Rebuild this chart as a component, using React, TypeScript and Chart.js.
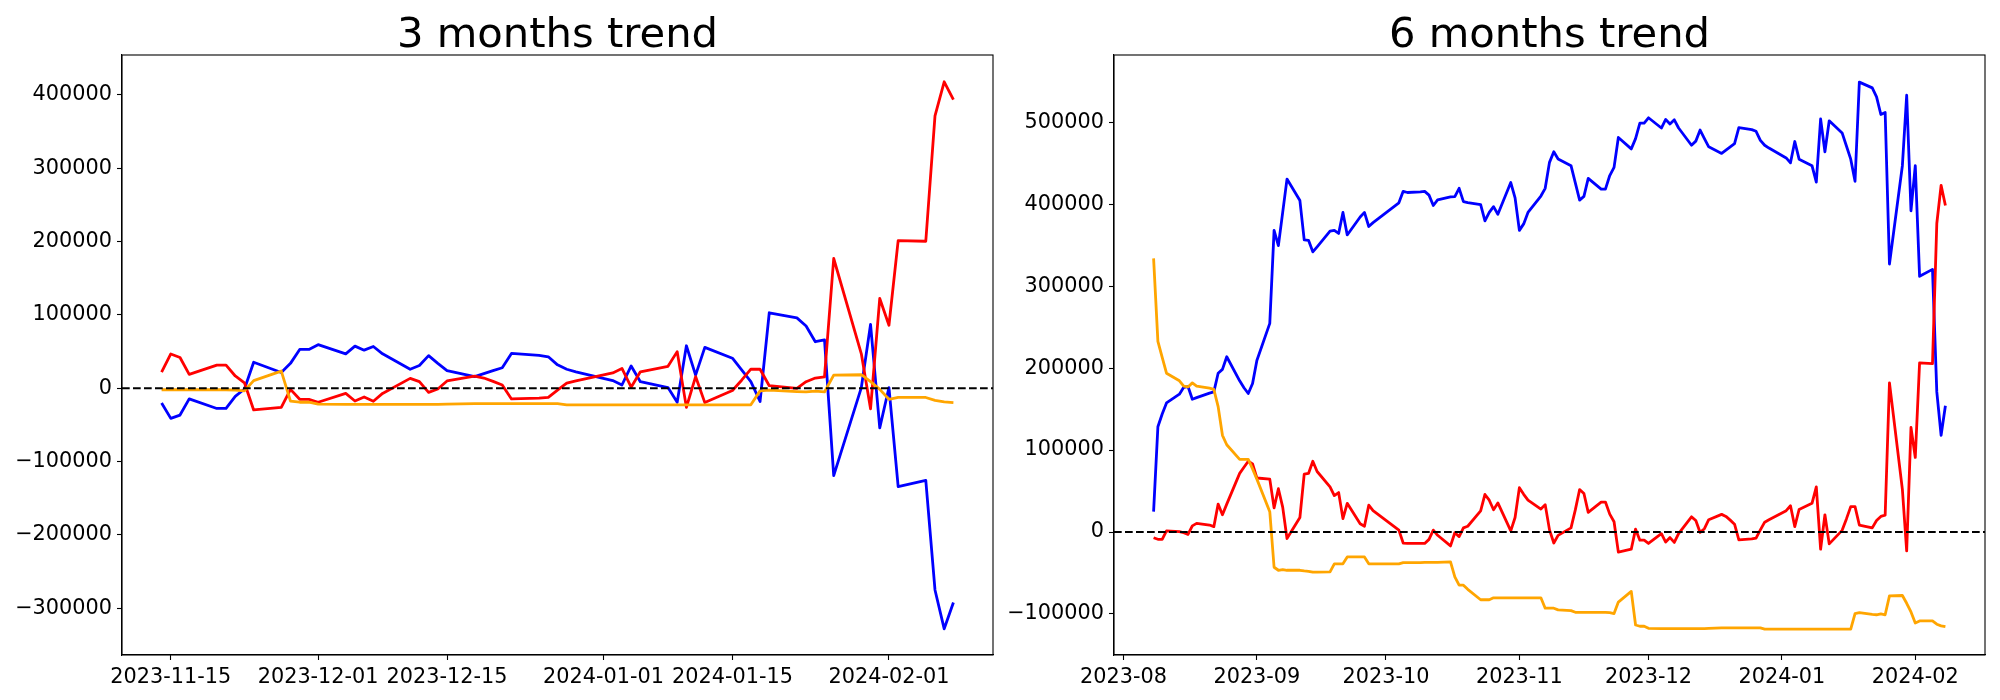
import React, { useEffect, useRef } from 'react';
import { Chart, registerables } from 'chart.js';

Chart.register(...registerables);

// ---------------- 3 months trend ----------------
const dates3m = [
  '2023-11-14', '2023-11-15', '2023-11-16', '2023-11-17', '2023-11-20', '2023-11-21', '2023-11-22', '2023-11-23', '2023-11-24',
  '2023-11-27', '2023-11-28', '2023-11-29', '2023-11-30',
  '2023-12-01', '2023-12-04', '2023-12-05', '2023-12-06', '2023-12-07', '2023-12-08', '2023-12-11', '2023-12-12', '2023-12-13',
  '2023-12-14', '2023-12-15', '2023-12-18', '2023-12-19', '2023-12-20', '2023-12-21', '2023-12-22', '2023-12-25', '2023-12-26',
  '2023-12-27', '2023-12-28', '2023-12-29',
  '2024-01-02', '2024-01-03', '2024-01-04', '2024-01-05', '2024-01-08', '2024-01-09', '2024-01-10', '2024-01-11', '2024-01-12',
  '2024-01-15', '2024-01-16', '2024-01-17', '2024-01-18', '2024-01-19', '2024-01-22', '2024-01-23', '2024-01-24', '2024-01-25',
  '2024-01-26', '2024-01-29', '2024-01-30', '2024-01-31',
  '2024-02-01', '2024-02-02', '2024-02-05', '2024-02-06', '2024-02-07', '2024-02-08',
];
const blue3m = [
  -20000, -41000, -36500, -14500, -27500, -27500, -11000, -1000, 35500,
  21500, 34000, 53000, 53000,
  59500, 47000, 57500, 52000, 57000, 47000, 26000, 31000, 44500,
  34000, 24000, 16000, 20000, 24000, 28000, 47500, 45000, 43000,
  32000, 26000, 22500,
  10500, 4500, 30500, 9000, 1000, -19000, 58000, 18000, 55800,
  41000, 25000, 9000, -18000, 103000, 96000, 85000, 63500, 66000,
  -119000, 1000, 87000, -54000,
  1000, -134000, -125500, -275000, -328000, -292000,
];
const red3m = [
  22000, 46800, 42000, 19000, 31500, 31500, 16800, 7500, -29500,
  -26000, -1500, -15000, -15000,
  -19000, -7000, -17300, -11800, -17700, -7000, 13500, 9000, -5500,
  -1000, 10000, 16500, 14000, 9500, 4500, -14500, -13500, -12500,
  -2500, 7000, 10000,
  21000, 27000, 1500, 22500, 30000, 50000, -26000, 16000, -19500,
  -3000, 11000, 26000, 26000, 3500, 0, 9000, 14000, 15500,
  177000, 47000, -28000, 122500,
  86000, 201500, 200500, 371500, 418000, 393500,
];
const orange3m = [
  -2000, -2000, -2000, -2000, -2000, -2000, -2500, -3500, 10500,
  23500, -17500, -19000, -19000,
  -21500, -21800, -21800, -21800, -21800, -21800, -21800, -21800, -21800,
  -21800, -21500, -21000, -21000, -21000, -21000, -21000, -21000, -21000,
  -21000, -22500, -22500,
  -22500, -22500, -22500, -22500, -22500, -22500, -22500, -22500, -22500,
  -22500, -22500, -22500, -3500, -2500, -4500, -5000, -4000, -5000,
  18000, 18500, 9000, -1500,
  -15000, -12500, -12500, -16500, -18500, -19500,
];
const xTicks3m = ['2023-11-15', '2023-12-01', '2023-12-15', '2024-01-01', '2024-01-15', '2024-02-01'];
const xTickLabels3m = ['2023-11-15', '2023-12-01', '2023-12-15', '2024-01-01', '2024-01-15', '2024-02-01'];
const yTicks3m = [-300000, -200000, -100000, 0, 100000, 200000, 300000, 400000];

// ---------------- 6 months trend ----------------
const dates6m = [
  '2023-08-08', '2023-08-09', '2023-08-10', '2023-08-11', '2023-08-14', '2023-08-15', '2023-08-16', '2023-08-17', '2023-08-18',
  '2023-08-21', '2023-08-22', '2023-08-23', '2023-08-24', '2023-08-25', '2023-08-28', '2023-08-29', '2023-08-30', '2023-08-31',
  '2023-09-01', '2023-09-04', '2023-09-05', '2023-09-06', '2023-09-07', '2023-09-08', '2023-09-11', '2023-09-12', '2023-09-13',
  '2023-09-14', '2023-09-15', '2023-09-18', '2023-09-19', '2023-09-20', '2023-09-21', '2023-09-22', '2023-09-25', '2023-09-26',
  '2023-09-27', '2023-09-28', '2023-10-04', '2023-10-05', '2023-10-06',
  '2023-10-09', '2023-10-10', '2023-10-11', '2023-10-12', '2023-10-13', '2023-10-16', '2023-10-17', '2023-10-18', '2023-10-19',
  '2023-10-20', '2023-10-23', '2023-10-24', '2023-10-25', '2023-10-26', '2023-10-27', '2023-10-30', '2023-10-31',
  '2023-11-01', '2023-11-02', '2023-11-03', '2023-11-06', '2023-11-07', '2023-11-08', '2023-11-09', '2023-11-10', '2023-11-13',
  '2023-11-14', '2023-11-15', '2023-11-16', '2023-11-17', '2023-11-20', '2023-11-21', '2023-11-22', '2023-11-23', '2023-11-24',
  '2023-11-27', '2023-11-28', '2023-11-29', '2023-11-30',
  '2023-12-01', '2023-12-04', '2023-12-05', '2023-12-06', '2023-12-07', '2023-12-08', '2023-12-11', '2023-12-12', '2023-12-13',
  '2023-12-14', '2023-12-15', '2023-12-18', '2023-12-19', '2023-12-20', '2023-12-21', '2023-12-22', '2023-12-25', '2023-12-26',
  '2023-12-27', '2023-12-28', '2023-12-29',
  '2024-01-02', '2024-01-03', '2024-01-04', '2024-01-05', '2024-01-08', '2024-01-09', '2024-01-10', '2024-01-11', '2024-01-12',
  '2024-01-15', '2024-01-16', '2024-01-17', '2024-01-18', '2024-01-19', '2024-01-22', '2024-01-23', '2024-01-24', '2024-01-25',
  '2024-01-26', '2024-01-29', '2024-01-30', '2024-01-31',
  '2024-02-01', '2024-02-02', '2024-02-05', '2024-02-06', '2024-02-07', '2024-02-08',
];
const blue6m = [
  24800, 128500, 144000, 157500, 168200, 176500, 177500, 162000, 164000,
  169500, 171000, 193800, 198500, 213900, 184500, 176000, 169000, 181200,
  209300, 254600, 368100, 349400, 390000, 430700, 404500, 356400, 356000,
  341900, 348000, 367100, 368100, 364300, 390000, 362500, 384400, 390000,
  372800, 377500, 401700, 415700, 414300,
  415000, 415700, 411100, 398400, 405400, 409000, 409200, 419400, 403100,
  402000, 399400, 379700, 390000, 397000, 387700, 426500, 407800,
  368100, 376000, 390000, 410000, 419400, 451100, 464000, 455300, 447000,
  426000, 405000, 409500, 431500, 418500, 418500, 435000, 445000, 481500,
  467500, 480000, 499000, 499000,
  505500, 493000, 503500, 498000, 503000, 493000, 472000, 477000, 490500,
  480000, 470000, 462000, 466000, 470000, 474000, 493500, 491000, 489000,
  478000, 472000, 468500,
  456500, 450500, 476500, 455000, 447000, 427000, 504000, 464000, 501800,
  487000, 471000, 455000, 428000, 549000, 542000, 531000, 509500, 512000,
  327000, 447000, 533000, 392000,
  447000, 312000, 320500, 171000, 118000, 154000,
];
const red6m = [
  -7000, -8900, -8900, 1400, 500, -900, -3000, 7500, 10500,
  8500, 6500, 34100, 21000, 34000, 71500, 79000, 86400, 83100,
  65900, 64500, 29400, 52800, 30400, -7900, 17700, 70500, 71500,
  86400, 73800, 55100, 44400, 48100, 16300, 35000, 10000, 7000,
  32700, 26000, 2300, -13500, -14000,
  -14000, -14000, -9000, 2300, -4000, -17000, -900, -5600, 5100,
  7000, 25700, 45800, 38800, 27100, 35500, 1400, 17700,
  54100, 46000, 39000, 28000, 33400, 2600, -13400, -4100, 5000,
  27000, 51800, 47000, 24000, 36500, 36500, 21800, 12500, -24500,
  -21000, 3500, -10000, -10000,
  -14000, -2000, -12300, -6800, -12700, -2000, 18500, 14000, -500,
  4000, 15000, 21500, 19000, 14500, 9500, -9500, -8500, -7500,
  2500, 12000, 15000,
  26000, 32000, 6500, 27500, 35000, 55000, -21000, 21000, -14500,
  2000, 16000, 31000, 31000, 8500, 5000, 14000, 19000, 20500,
  182000, 52000, -23000, 127500,
  91000, 206500, 205500, 376500, 423000, 398500,
];
const orange6m = [
  334000, 232600, 213000, 193800, 184500, 178000, 177000, 182000, 178000,
  175500, 174000, 153000, 118000, 106500, 88700, 88700, 88700, 77000,
  64500, 24800, -43000, -46700, -45800, -46700, -46700, -47500, -48000,
  -49000, -49000, -48600, -38800, -38800, -38800, -30400, -30400, -30400,
  -38800, -38800, -38800, -37400, -37400,
  -37400, -37000, -37000, -37000, -37000, -36400, -54700, -64900, -64900,
  -70000, -82700, -82700, -82700, -80300, -80300, -80300, -80300,
  -80300, -80300, -80300, -80300, -93000, -93000, -93000, -95000, -96000,
  -98000, -98000, -98000, -98000, -98000, -98000, -98500, -99500, -85500,
  -72500, -113500, -115000, -115000,
  -117500, -117800, -117800, -117800, -117800, -117800, -117800, -117800, -117800,
  -117800, -117500, -117000, -117000, -117000, -117000, -117000, -117000, -117000,
  -117000, -118500, -118500,
  -118500, -118500, -118500, -118500, -118500, -118500, -118500, -118500, -118500,
  -118500, -118500, -118500, -99500, -98500, -100500, -101000, -100000, -101000,
  -78000, -77500, -87000, -97500,
  -111000, -108500, -108500, -112500, -114500, -115500,
];
const xTicks6m = ['2023-08-01', '2023-09-01', '2023-10-01', '2023-11-01', '2023-12-01', '2024-01-01', '2024-02-01'];
const xTickLabels6m = ['2023-08', '2023-09', '2023-10', '2023-11', '2023-12', '2024-01', '2024-02'];
const yTicks6m = [-100000, 0, 100000, 200000, 300000, 400000, 500000];

const FONT = "'DejaVu Sans', 'Noto Sans', sans-serif";

const toDay = (s: string) => {
  const [y, m, d] = s.split('-').map(Number);
  return Date.UTC(y, m - 1, d) / 86400000;
};

const fmtNum = (v: number) => (v < 0 ? '\u2212' + Math.abs(v) : String(v));

type PanelProps = {
  title: string;
  dates: string[];
  blue: number[];
  red: number[];
  orange: number[];
  xTicks: string[];
  xTickLabels: string[];
  yTicks: number[];
  yMin: number;
  yMax: number;
  left: number;
  yAxisWidth: number;
  padRight: number;
};

function Panel(p: PanelProps) {
  const ref = useRef<HTMLCanvasElement | null>(null);
  useEffect(() => {
    if (!ref.current) return;
    const xs = p.dates.map(toDay);
    const x0 = xs[0];
    const x1 = xs[xs.length - 1];
    const margin = (x1 - x0) * 0.05;
    const tickDays = p.xTicks.map(toDay);

    const mk = (vals: number[], color: string) => ({
      data: xs.map((x, i) => ({ x, y: vals[i] })),
      borderColor: color,
      backgroundColor: color,
      borderWidth: 2.8,
      pointRadius: 0,
      pointHoverRadius: 0,
      tension: 0,
      fill: false,
      borderJoinStyle: 'round' as const,
      borderCapStyle: 'butt' as const,
    });

    const overlay = {
      id: 'overlay',
      afterDatasetsDraw(chart: any) {
        const { ctx, chartArea } = chart;
        const ys = chart.scales.y;
        const y0 = ys.getPixelForValue(0);
        ctx.save();
        ctx.strokeStyle = '#000';
        ctx.lineWidth = 2.1;
        ctx.setLineDash([7.7, 3.3]);
        ctx.beginPath();
        ctx.moveTo(chartArea.left, y0);
        ctx.lineTo(chartArea.right, y0);
        ctx.stroke();
        ctx.setLineDash([]);
        ctx.lineWidth = 1.1;
        ctx.strokeRect(chartArea.left, chartArea.top, chartArea.right - chartArea.left, chartArea.bottom - chartArea.top);
        ctx.restore();
      },
      afterDraw(chart: any) {
        const { ctx, chartArea } = chart;
        ctx.save();
        ctx.fillStyle = '#000';
        ctx.font = `41.7px ${FONT}`;
        ctx.textAlign = 'center';
        ctx.textBaseline = 'alphabetic';
        ctx.fillText(p.title, (chartArea.left + chartArea.right) / 2, chartArea.top - 8.3);
        ctx.restore();
      },
    };

    const chart = new Chart(ref.current, {
      type: 'line',
      data: {
        datasets: [mk(p.orange, '#ffa500'), mk(p.red, '#ff0000'), mk(p.blue, '#0000ff')],
      },
      options: {
        animation: false,
        responsive: false,
        maintainAspectRatio: false,
        devicePixelRatio: 1,
        events: [],
        layout: { padding: { top: 55, left: 0, right: p.padRight, bottom: 0 }, autoPadding: false },
        plugins: {
          legend: { display: false },
          tooltip: { enabled: false },
          title: { display: false },
        },
        scales: {
          x: {
            type: 'linear',
            min: x0 - margin,
            max: x1 + margin,
            afterBuildTicks: (axis: any) => {
              axis.ticks = tickDays.map((v) => ({ value: v }));
            },
            afterFit: (s: any) => {
              s.height = 45;
            },
            ticks: {
              autoSkip: false,
              maxRotation: 0,
              minRotation: 0,
              padding: 5,
              color: '#000',
              font: { family: FONT, size: 20.8 },
              callback: (v: any) => {
                const i = tickDays.indexOf(Number(v));
                return i >= 0 ? p.xTickLabels[i] : '';
              },
            },
            grid: {
              display: true,
              drawOnChartArea: false,
              drawTicks: true,
              tickLength: 5,
              tickWidth: 1.1,
              tickColor: '#000',
            },
            border: { display: true, color: '#000', width: 1.1 },
          },
          y: {
            type: 'linear',
            min: p.yMin,
            max: p.yMax,
            afterBuildTicks: (axis: any) => {
              axis.ticks = p.yTicks.map((v) => ({ value: v }));
            },
            afterFit: (s: any) => {
              s.width = p.yAxisWidth;
            },
            ticks: {
              autoSkip: false,
              padding: 5,
              color: '#000',
              font: { family: FONT, size: 20.8 },
              callback: (v: any) => fmtNum(Number(v)),
            },
            grid: {
              display: true,
              drawOnChartArea: false,
              drawTicks: true,
              tickLength: 5,
              tickWidth: 1.1,
              tickColor: '#000',
            },
            border: { display: true, color: '#000', width: 1.1 },
          },
        },
      } as any,
      plugins: [overlay],
    });
    return () => chart.destroy();
  }, []);

  return (
    <canvas
      ref={ref}
      width={1000}
      height={700}
      style={{ position: 'absolute', left: p.left, top: 0, width: 1000, height: 700 }}
    />
  );
}

export default function App() {
  return (
    <div style={{ position: 'absolute', left: 0, top: 0, width: 2000, height: 700, background: '#fff', overflow: 'hidden' }}>
      <Panel
        title="3 months trend"
        dates={dates3m}
        blue={blue3m}
        red={red3m}
        orange={orange3m}
        xTicks={xTicks3m}
        xTickLabels={xTickLabels3m}
        yTicks={yTicks3m}
        yMin={-363700}
        yMax={454500}
        left={0}
        yAxisWidth={122}
        padRight={7}
      />
      <Panel
        title="6 months trend"
        dates={dates6m}
        blue={blue6m}
        red={red6m}
        orange={orange6m}
        xTicks={xTicks6m}
        xTickLabels={xTickLabels6m}
        yTicks={yTicks6m}
        yMin={-150100}
        yMax={582100}
        left={1000}
        yAxisWidth={114}
        padRight={15}
      />
    </div>
  );
}
